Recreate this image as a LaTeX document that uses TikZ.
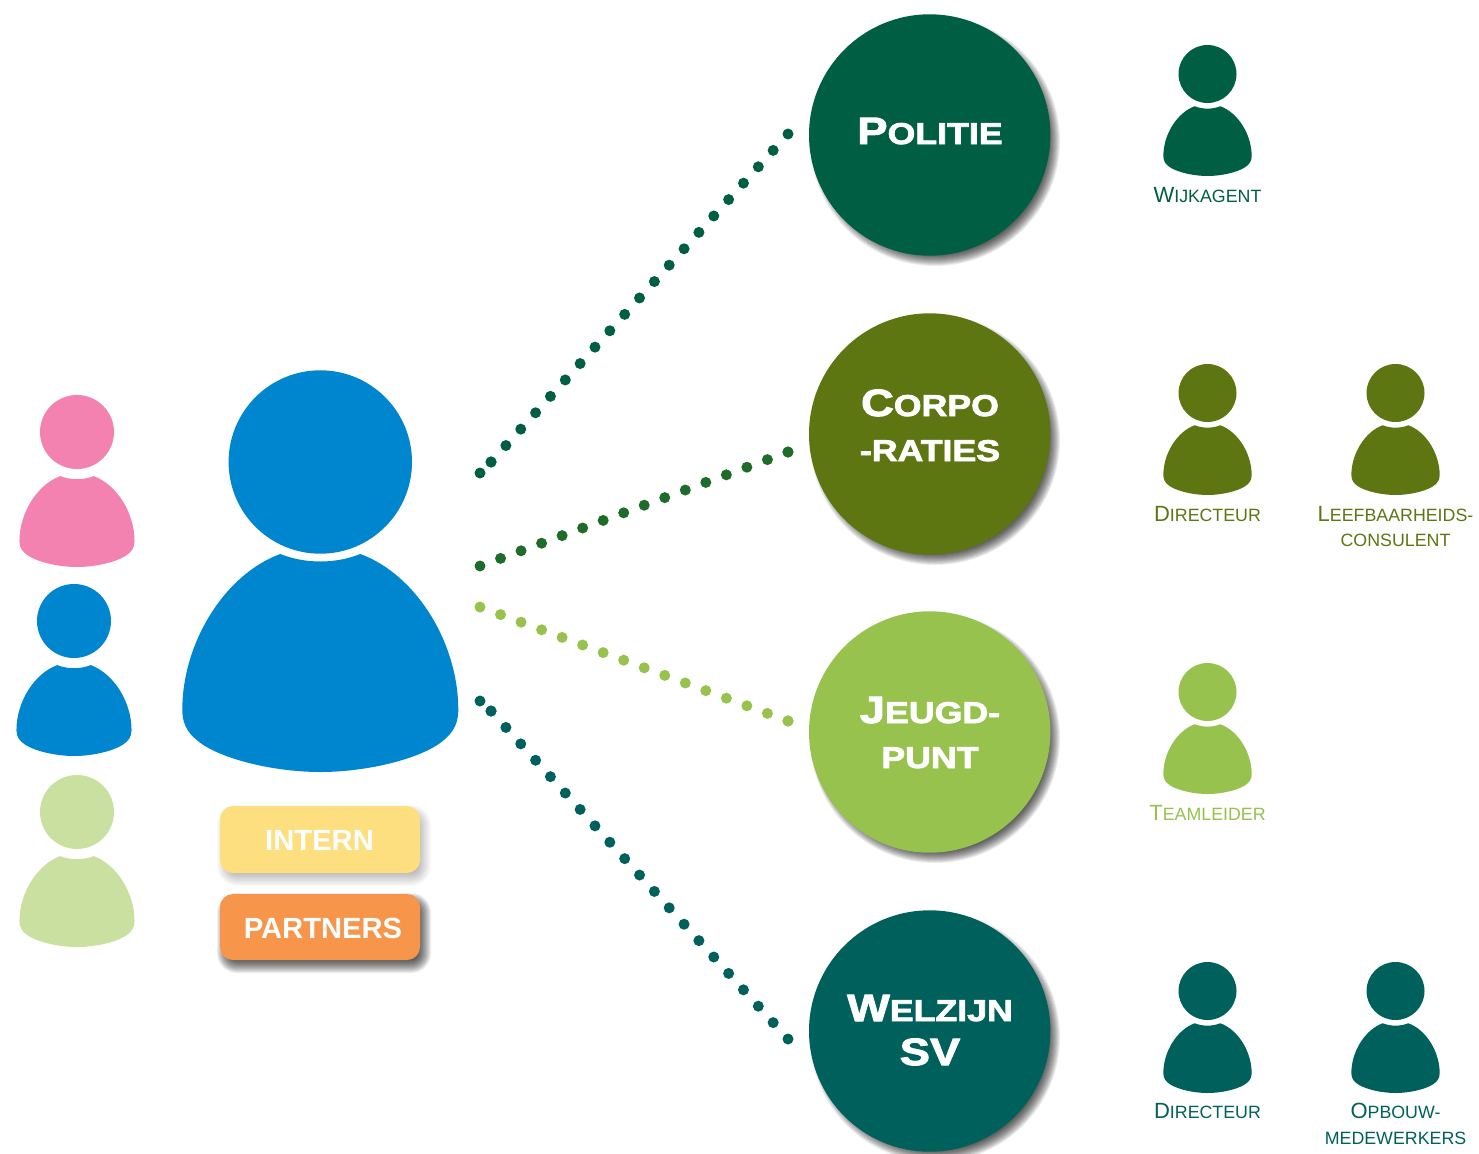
\documentclass[tikz,border=0pt]{standalone}
\usepackage{fontspec}
\setmainfont{Liberation Sans}
\newfontfamily\blk[BoldFeatures={FakeBold=2.6,FakeStretch=1.19}]{Liberation Sans}
\definecolor{cpol}{HTML}{005F43}
\definecolor{ccor}{HTML}{5E7612}
\definecolor{cjeu}{HTML}{97C24E}
\definecolor{cwel}{HTML}{00605C}
\definecolor{cblue}{HTML}{0085CF}
\definecolor{cpink}{HTML}{F382B1}
\definecolor{clight}{HTML}{C9E0A0}
\definecolor{cintern}{HTML}{FDDF80}
\definecolor{cpart}{HTML}{F7964A}
\definecolor{cline}{HTML}{1F6B2A}
\newcommand{\bigsc}[2]{{\fontsize{38}{38}\selectfont #1}{\fontsize{30}{30}\selectfont #2}}
\newcommand{\bigsm}[1]{{\fontsize{30}{30}\selectfont #1}}
\newcommand{\lblsc}[2]{{\fontsize{22}{22}\selectfont #1}{\fontsize{17.8}{17.8}\selectfont #2}}
\newcommand{\lblsm}[1]{{\fontsize{17.8}{17.8}\selectfont #1}}
\newcommand{\personfig}[7]{%
  \node[circle,fill=#7,minimum size=#4*2pt,inner sep=0pt] (#1) at (#2,#3) {};
  \begin{scope}[shift={(#2,#5)},scale=#6]
    \fill[#7] (-40,-218) .. controls (-15,-208) and (15,-208) .. (40,-218)
      .. controls (95,-198) and (138,-130) .. (138,-62)
      .. controls (138,-45) and (130,-36) .. (117,-27)
      .. controls (90,-10) and (40,0) .. (0,0)
      .. controls (-40,0) and (-90,-10) .. (-117,-27)
      .. controls (-130,-36) and (-138,-45) .. (-138,-62)
      .. controls (-138,-130) and (-95,-198) .. (-40,-218) -- cycle;
  \end{scope}}
\newcommand{\hubshadow}[2]{%
  \foreach \d in {-7,-6,...,4}{\fill[black,opacity=.075] (#1+5,#2+6) circle ({121+\d});}}
\newcommand{\pillshadow}[5]{%
  \foreach \d in {-6,-5,...,7}{\fill[black,opacity=#5,rounded corners={(13+\d)*1pt}]
    ({#1+4-\d},{#2+6-\d}) rectangle ({#3+4+\d},{#4+6+\d});}}
\tikzset{
  hubc/.style={circle,minimum size=241.4pt,inner sep=0pt,fill=#1},
  bigtxt/.style={text=white,anchor=base,align=center,font=\blk\bfseries},
  lbl/.style={text=#1,anchor=base,inner sep=0pt},
  pill/.style={rounded corners=13pt,minimum width=200pt,inner sep=0pt},
  pilltxt/.style={inner sep=0pt,text=white,font=\bfseries\fontsize{29.2}{29.2}\selectfont},
  dots/.style={draw=#1,line width=11pt,line cap=round,dash pattern=on 0pt off 22.12pt},
  dotsb/.style={draw=#1,line width=11pt,line cap=round,dash pattern=on 0pt off 21.89pt},
  enddot/.style={fill=#1}
}
\begin{document}
\begin{tikzpicture}[x=1pt,y=-1pt]
\useasboundingbox (0,0) rectangle (1479,1153);
\fill[white] (0,0) rectangle (1479,1153);
% coordinates
\coordinate (a1) at (491,462); \coordinate (a0) at (480,473); \coordinate (b1) at (788,134);
\coordinate (a2) at (480,566); \coordinate (b2) at (788,452);
\coordinate (a3) at (480,607); \coordinate (b3) at (788,721);
\coordinate (a4) at (491,711); \coordinate (a5) at (480,701); \coordinate (b4) at (788,1039);
% connectors
\draw[dots=cpol] (b1) -- (a1);
\fill[enddot=cpol] (a0) circle (5.5pt);
\fill[enddot=cpol] (a1) circle (5.5pt);
\draw[dotsb=cline] (a2) -- (b2);
\fill[enddot=cline] (b2) circle (5.5pt);
\draw[dotsb=cjeu] (a3) -- (b3);
\fill[enddot=cjeu] (b3) circle (5.5pt);
\draw[dots=cwel] (b4) -- (a4);
\fill[enddot=cwel] (a4) circle (5.5pt);
\fill[enddot=cwel] (a5) circle (5.5pt);
% hubs
\hubshadow{930}{135}
\hubshadow{930}{434}
\hubshadow{930}{732}
\hubshadow{930}{1031}
\node[hubc=cpol] (pol) at (929.7,135) {};
\node[hubc=ccor] (cor) at (929.7,434) {};
\node[hubc=cjeu] (jeu) at (929.7,732) {};
\node[hubc=cwel] (wel) at (929.7,1031) {};
\node[bigtxt] (poltxt) at (930,144) {\bigsc{P}{OLITIE}};
\node[bigtxt] (cortxtA) at (930,416) {\bigsc{C}{ORPO}};
\node[bigtxt] (cortxtB) at (930,461) {\bigsm{-RATIES}};
\node[bigtxt] (jeutxtA) at (930,723) {\bigsc{J}{EUGD-}};
\node[bigtxt] (jeutxtB) at (930,768) {\bigsm{PUNT}};
\node[bigtxt] (weltxtA) at (930,1021) {\bigsc{W}{ELZIJN}};
\node[bigtxt] (weltxtB) at (930,1065) {\bigsc{S}{\fontsize{38}{38}\selectfont V}};
% persons
\personfig{main}{320.3}{462}{91.7}{772}{1}{cblue}
\personfig{pink}{77}{432}{37}{567}{0.417}{cpink}
\personfig{blue}{74}{621}{37}{756}{0.417}{cblue}
\personfig{light}{77}{812}{37}{947}{0.417}{clight}
\personfig{pa}{1207.5}{74}{29}{176}{0.32}{cpol}
\personfig{pb}{1207.5}{393}{29}{495}{0.32}{ccor}
\personfig{pc}{1395.5}{393}{29}{495}{0.32}{ccor}
\personfig{pd}{1207.5}{692}{29}{794}{0.32}{cjeu}
\personfig{pe}{1207.5}{991}{29}{1093}{0.32}{cwel}
\personfig{pf}{1395.5}{991}{29}{1093}{0.32}{cwel}
% pills
\pillshadow{220}{806}{420}{873}{.018}
\pillshadow{220}{894}{420}{960}{.065}
\node[pill,fill=cintern,minimum height=67pt] (intern) at (320,839.5) {};
\node[pill,fill=cpart,minimum height=66pt] (partners) at (320,927) {};
\node[pilltxt] (interntxt) at (319.5,840) {INTERN};
\node[pilltxt] (partnerstxt) at (323,928) {PARTNERS};
% labels
\node[lbl=cpol] (la) at (1207.5,202) {\lblsc{W}{IJKAGENT}};
\node[lbl=ccor] (lb) at (1207.5,521) {\lblsc{D}{IRECTEUR}};
\node[lbl=ccor] (lc1) at (1395.5,521) {\lblsc{L}{EEFBAARHEIDS-}};
\node[lbl=ccor] (lc2) at (1395.5,546) {\lblsm{CONSULENT}};
\node[lbl=cjeu] (ld) at (1207.5,820) {\lblsc{T}{EAMLEIDER}};
\node[lbl=cwel] (le) at (1207.5,1118) {\lblsc{D}{IRECTEUR}};
\node[lbl=cwel] (lf1) at (1395.5,1118) {\lblsc{O}{PBOUW-}};
\node[lbl=cwel] (lf2) at (1395.5,1144) {\lblsm{MEDEWERKERS}};
\end{tikzpicture}
\end{document}
